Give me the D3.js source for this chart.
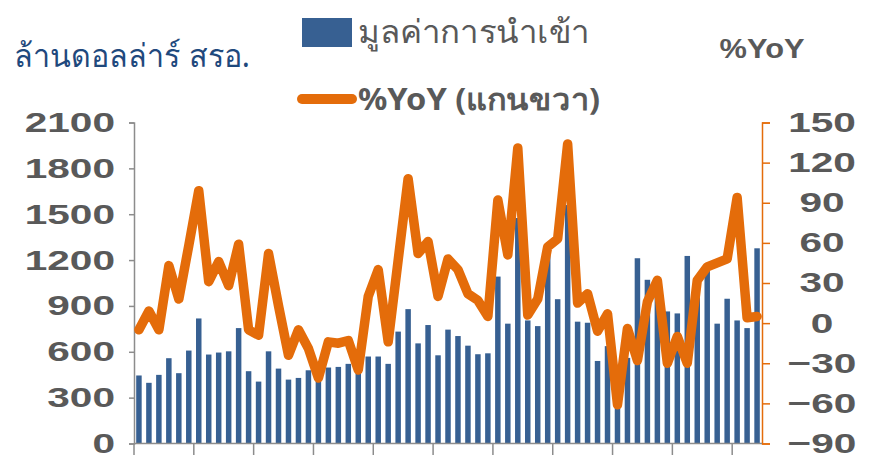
<!DOCTYPE html>
<html><head><meta charset="utf-8">
<script src="https://cdn.jsdelivr.net/npm/d3@7"></script>
<style>
html,body{margin:0;padding:0;background:#fff;}
svg{display:block;}
</style>
</head><body>
<svg id="c" width="877" height="455"></svg>
<script>
const months = d3.range(63).map(i => "M" + (i + 1));
const importValues = [445,397,449,558,460,608,818,582,595,603,
  755,473,405,603,490,418,429,479,470,497,
  501,521,540,569,569,521,732,879,655,775,
  577,745,703,640,584,590,1092,784,1475,805,
  768,1240,944,1560,797,790,540,637,240,560,
  1212,1071,1060,864,851,1227,1080,1150,784,947,
  805,755,1277];
const yoyValues = [-5,9,-5,43,18,58,99,31,46,28,
  59,-5,-9,52,13,-24,-5,-19,-41,-14,
  -15,-13,-35,20,40,-14,47,108,52,61,
  20,48,40,22,17,5,92,51,131,6,
  18,57,63,134,15,22,-6,7,-61,-4,
  -28,16,32,-30,-10,-30,32,42,45,48,
  94,4,5];
const leftTicks = [0,300,600,900,1200,1500,1800,2100];
const rightTicks = [-90,-60,-30,0,30,60,90,120,150];
const leftUnit = "ล้านดอลล่าร์ สรอ.";
const rightUnit = "%YoY";
const legendBar = "มูลค่าการนำเข้า";
const legendLine = "%YoY (แกนขวา)";

const svg = d3.select("#c");
const L = 134, R = 762, T = 122.5, B = 443.5;
const x = d3.scaleBand().domain(months).range([L, R]).paddingInner(0.45).paddingOuter(0.22);
const yL = d3.scaleLinear().domain([0, 2100]).range([B, T]);
const yR = d3.scaleLinear().domain([-90, 150]).range([B, T]);

const barColor = "#376092", lineColor = "#E46C0A", gray = "#8C8C8C", txt = "#595959";
const font = "'Liberation Sans', Arial, sans-serif";
const thai = "'Noto Sans', sans-serif";
const fmt = d3.format("d");
const sx = 1.45;

// bars
svg.append("g").selectAll("rect").data(importValues).join("rect")
  .attr("x", (d, i) => x(months[i]))
  .attr("y", d => yL(d))
  .attr("width", x.bandwidth())
  .attr("height", d => B - yL(d))
  .attr("fill", barColor);

// left axis
const gl = svg.append("g").attr("transform", `translate(${L},0)`)
  .call(d3.axisLeft(yL).tickValues(leftTicks).tickFormat(fmt).tickSize(5).tickPadding(19));
gl.select(".domain").attr("stroke", gray).attr("stroke-width", 1.5);
gl.selectAll(".tick line").attr("stroke", gray).attr("stroke-width", 1.5);
gl.selectAll("text").attr("font-family", font).attr("font-weight", "bold")
  .attr("font-size", 28).attr("fill", txt)
  .attr("x", 0).attr("transform", `translate(-19,0) scale(${sx},1)`);

// right axis
const gr = svg.append("g").attr("transform", `translate(${R},0)`)
  .call(d3.axisRight(yR).tickValues(rightTicks).tickFormat(fmt).tickSize(8).tickPadding(0));
gr.select(".domain").attr("stroke", lineColor).attr("stroke-width", 1.5);
gr.selectAll(".tick line").attr("stroke", lineColor).attr("stroke-width", 1.5);
gr.selectAll("text").attr("font-family", font).attr("font-weight", "bold")
  .attr("font-size", 28).attr("fill", txt).attr("text-anchor", "middle")
  .attr("x", 0).attr("transform", `translate(60,0) scale(${sx},1)`);

// bottom axis
const step = x.step();
const bTicks = months.filter((d, i) => i % 6 === 0);
const gb = svg.append("g").attr("transform", `translate(0,${B})`);
gb.append("line").attr("x1", L).attr("x2", R).attr("stroke", gray).attr("stroke-width", 1.5);
gb.selectAll("line.t").data(bTicks).join("line").attr("class", "t")
  .attr("x1", d => x(d) - x.paddingOuter() * step)
  .attr("x2", d => x(d) - x.paddingOuter() * step)
  .attr("y1", 0).attr("y2", 12).attr("stroke", gray).attr("stroke-width", 1.5);

// line
const line = d3.line().x((d, i) => x(months[i]) + x.bandwidth() / 2).y(d => yR(d));
svg.append("path").datum(yoyValues).attr("d", line)
  .attr("fill", "none").attr("stroke", lineColor).attr("stroke-width", 9.5)
  .attr("stroke-linejoin", "round").attr("stroke-linecap", "round");

// titles & legend
svg.append("text").attr("x", 14).attr("y", 67).text(leftUnit)
  .attr("font-family", thai).attr("font-size", 32).attr("fill", "#1F497D")
  .attr("textLength", 236).attr("lengthAdjust", "spacingAndGlyphs");
svg.append("text").attr("x", 0).attr("y", 0).attr("text-anchor", "middle").text(rightUnit)
  .attr("transform", `translate(762,58) scale(1.1,1)`)
  .attr("font-family", font).attr("font-weight", "bold").attr("font-size", 28).attr("fill", txt);
svg.append("rect").attr("x", 302).attr("y", 18).attr("width", 50).attr("height", 29).attr("fill", barColor);
svg.append("text").attr("x", 358).attr("y", 43).text(legendBar)
  .attr("font-family", thai).attr("font-size", 32).attr("fill", txt)
  .attr("textLength", 232).attr("lengthAdjust", "spacingAndGlyphs");
svg.append("line").attr("x1", 302).attr("x2", 352).attr("y1", 99).attr("y2", 99)
  .attr("stroke", lineColor).attr("stroke-width", 10).attr("stroke-linecap", "round");
svg.append("text").attr("x", 358).attr("y", 110).text(legendLine)
  .attr("font-family", thai).attr("font-weight", "bold").attr("font-size", 30).attr("fill", txt)
  .attr("textLength", 242).attr("lengthAdjust", "spacingAndGlyphs");
</script>
</body></html>
